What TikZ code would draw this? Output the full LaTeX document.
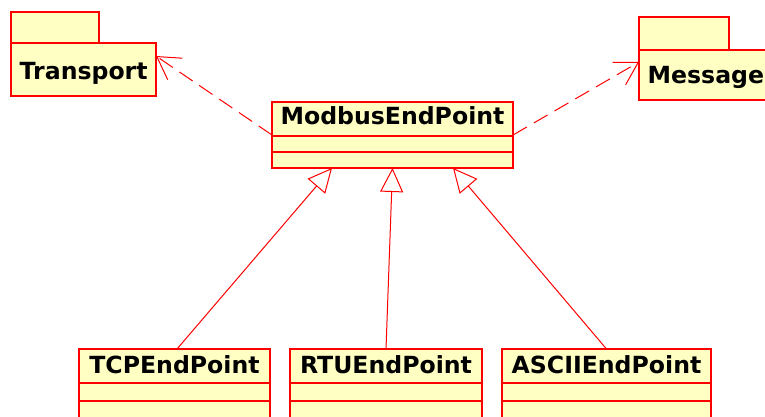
\documentclass[tikz,border=0pt]{standalone}
\usepackage{fontspec}
\setmainfont{DejaVu Sans}
\usetikzlibrary{arrows.meta,calc}
\definecolor{umlfill}{RGB}{255,255,196}
\definecolor{umlred}{RGB}{255,0,0}
\tikzset{
  boxshape/.style={draw=umlred, fill=umlfill, line width=1.6pt, inner sep=0pt, outer sep=0pt, anchor=north west},
  umlname/.style={font=\fontsize{23.6}{28}\bfseries\selectfont, text=black, inner sep=0pt},
  divider/.style={draw=umlred, line width=1.6pt},
  depend/.style={draw=umlred, line width=1pt, dash pattern=on 16pt off 8pt,
    -{Straight Barb[length=22pt,width=26pt]}},
  inherit/.style={draw=umlred, line width=1pt,
    -{Triangle[open, length=24pt, width=23pt, fill=white]}}
}
\begin{document}
\begin{tikzpicture}[x=1pt,y=-1pt]
\clip (0,0) rectangle (765,416);
\fill[white] (0,0) rectangle (765,416);

% package Transport
\node[boxshape, minimum width=88, minimum height=31] (transportTab) at (11,12) {};
\node[boxshape, minimum width=145, minimum height=53] (transport) at (11,43) {};
\node[umlname, anchor=base west] (transportName) at (19.5,79) {Transport};

% package Message
\node[boxshape, minimum width=90, minimum height=33] (messageTab) at (639,17) {};
\node[boxshape, minimum width=135, minimum height=50] (message) at (639,50) {};
\node[umlname, anchor=base west] (messageName) at (647.5,83) {Message};

% class ModbusEndPoint
\node[boxshape, minimum width=241, minimum height=66] (modbus) at (272,102) {};
\node[umlname, anchor=base] (modbusName) at (392.5,124.5) {ModbusEndPoint};
\draw[divider] ([yshift=-34pt]modbus.north west) -- ([yshift=-34pt]modbus.north east);
\draw[divider] ([yshift=-50pt]modbus.north west) -- ([yshift=-50pt]modbus.north east);

% subclasses
\node[boxshape, minimum width=191, minimum height=70] (tcp) at (79,349) {};
\node[umlname, anchor=base] (tcpName) at (174.5,373) {TCPEndPoint};
\node[boxshape, minimum width=192, minimum height=70] (rtu) at (290,349) {};
\node[umlname, anchor=base] (rtuName) at (386,373) {RTUEndPoint};
\node[boxshape, minimum width=209, minimum height=70] (ascii) at (502,349) {};
\node[umlname, anchor=base] (asciiName) at (606.5,373) {ASCIIEndPoint};
\foreach \c in {tcp,rtu,ascii}{
  \draw[divider] ([yshift=-34pt]\c.north west) -- ([yshift=-34pt]\c.north east);
  \draw[divider] ([yshift=-52pt]\c.north west) -- ([yshift=-52pt]\c.north east);
}

% dependencies
\draw[depend] (modbus.west) -- ([yshift=13.5pt]transport.east);
\draw[depend] (modbus.east) -- ([yshift=13pt]message.west);

% generalizations
\draw[inherit] ([xshift=2.5pt]tcp.north) -- ([xshift=-60.5pt]modbus.south);
\draw[inherit] (rtu.north) -- (modbus.south);
\draw[inherit] (ascii.north) -- ([xshift=60.5pt]modbus.south);
\end{tikzpicture}
\end{document}
